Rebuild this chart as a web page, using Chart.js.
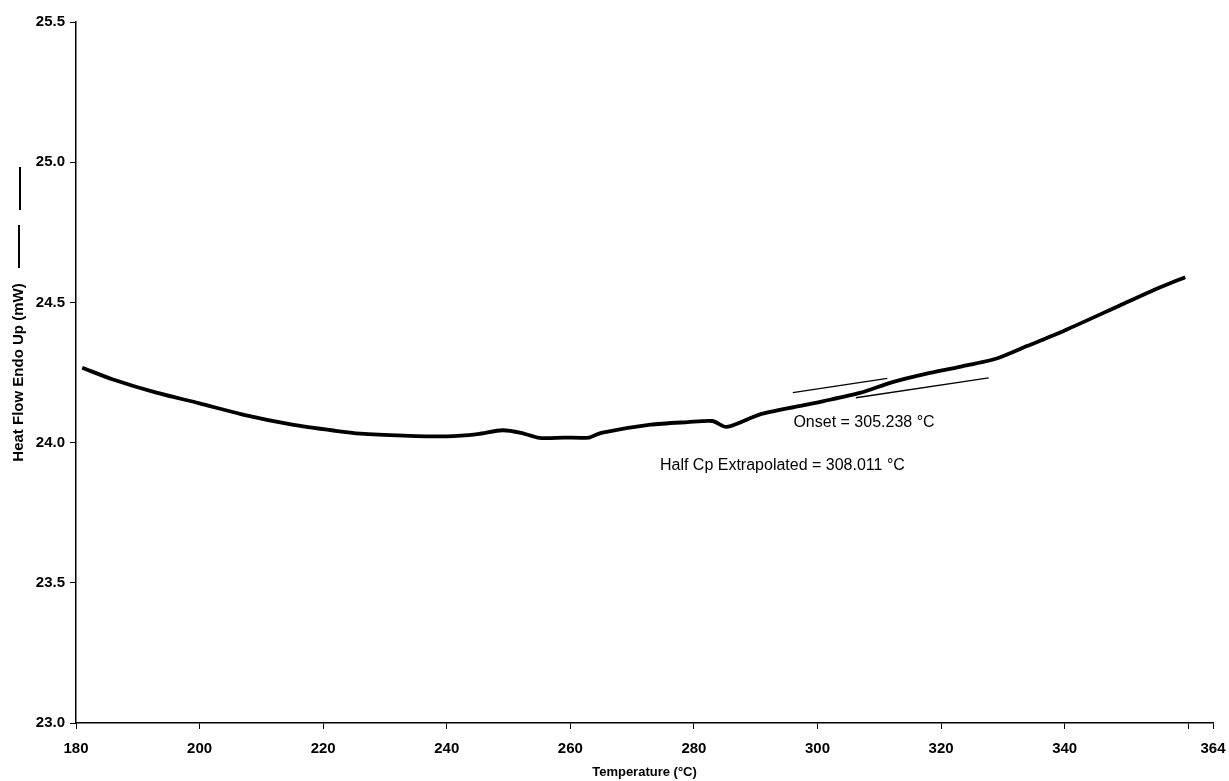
<!DOCTYPE html>
<html>
<head>
<meta charset="utf-8">
<script src="https://cdn.jsdelivr.net/npm/chart.js@4.4.0/dist/chart.umd.min.js"></script>
<style>
    html, body { margin: 0; padding: 0; background: #fff; }
    #wrap { width: 1229px; height: 781px; position: relative; }
</style>
</head>
<body>
<div id="wrap"><canvas id="dscChart"></canvas></div>
<script>
// === DADOS ===
const temperature = [181, 186, 193, 200, 207, 215, 222, 226, 233, 240, 245, 249, 252, 255, 259, 263, 265, 273, 279, 283, 285.3, 290.6, 297, 301, 307, 312, 317.5, 323, 329, 334, 340, 349, 354, 359.5];
const heatFlow = [24.267, 24.225, 24.178, 24.14, 24.10, 24.064, 24.042, 24.032, 24.025, 24.022, 24.03, 24.044, 24.035, 24.017, 24.018, 24.018, 24.035, 24.064, 24.073, 24.077, 24.056, 24.10, 24.13, 24.148, 24.178, 24.215, 24.245, 24.27, 24.30, 24.345, 24.40, 24.49, 24.54, 24.59];

// tangentes usadas no cálculo do onset / half Cp
const onsetTangentX = [296.0, 311.3];
const onsetTangentY = [24.178, 24.229];
const halfCpTangentX = [306.2, 327.7];
const halfCpTangentY = [24.160, 24.231];

const xTicks = [180, 200, 220, 240, 260, 280, 300, 320, 340, 360, 364];
const yTicks = [23.0, 23.5, 24.0, 24.5, 25.0, 25.5];

const onsetLabel = 'Onset = 305.238 °C';
const halfCpLabel = 'Half Cp Extrapolated = 308.011 °C';

const toPoints = (xs, ys) => xs.map((x, i) => ({ x: x, y: ys[i] }));

// === PLUGIN: textos dos resultados e traço da legenda do eixo Y ===
const dscNotes = {
    id: 'dscNotes',
    afterDatasetsDraw(chart) {
        const ctx = chart.ctx, sx = chart.scales.x, sy = chart.scales.y;
        ctx.save();
        ctx.fillStyle = '#000';
        ctx.font = '16px "Liberation Sans", Arial, sans-serif';
        ctx.textBaseline = 'middle';
        ctx.textAlign = 'left';
        ctx.fillText(onsetLabel, sx.getPixelForValue(296.1), sy.getPixelForValue(24.07));
        ctx.fillText(halfCpLabel, sx.getPixelForValue(274.5), sy.getPixelForValue(23.918));

        // traço ao lado do título do eixo Y
        ctx.strokeStyle = '#000';
        ctx.lineWidth = 2;
        ctx.beginPath();
        ctx.moveTo(20, 167); ctx.lineTo(20, 210);
        ctx.moveTo(19, 225); ctx.lineTo(19, 268);
        ctx.stroke();
        ctx.restore();
    }
};

const tickFont = { family: '"Liberation Sans", Arial, sans-serif', size: 15, weight: 'bold' };

new Chart(document.getElementById('dscChart').getContext('2d'), {
    type: 'line',
    data: {
        datasets: [
            { label: 'Heat Flow', data: toPoints(temperature, heatFlow), borderColor: '#000', borderWidth: 3.8, pointRadius: 0, tension: 0.25, fill: false },
            { label: 'Onset tangent', data: toPoints(onsetTangentX, onsetTangentY), borderColor: '#000', borderWidth: 1.3, pointRadius: 0, fill: false },
            { label: 'Half Cp tangent', data: toPoints(halfCpTangentX, halfCpTangentY), borderColor: '#000', borderWidth: 1.3, pointRadius: 0, fill: false }
        ]
    },
    options: {
        responsive: true,
        maintainAspectRatio: false,
        animation: false,
        layout: { padding: { top: 22, right: 0, left: 0, bottom: 0 } },
        plugins: { legend: { display: false }, tooltip: { enabled: false } },
        scales: {
            x: {
                type: 'linear', min: 180, max: 364,
                afterBuildTicks: axis => { axis.ticks = xTicks.map(v => ({ value: v })); },
                afterFit: s => { s.height = 58; s.paddingRight = 16; },
                grid: { drawOnChartArea: false, drawTicks: true, tickLength: 6, color: '#000', lineWidth: 1 },
                border: { display: true, color: '#000', width: 1.5 },
                ticks: { color: '#000', font: tickFont, padding: 11, maxRotation: 0, autoSkip: false, callback: v => v === 360 ? '' : v },
                title: { display: true, text: 'Temperature (°C)', color: '#000', font: { family: '"Liberation Sans", Arial, sans-serif', size: 13, weight: 'bold' }, padding: { top: 0, bottom: 1 } }
            },
            y: {
                min: 23.0, max: 25.5,
                afterBuildTicks: axis => { axis.ticks = yTicks.map(v => ({ value: v })); },
                afterFit: s => { s.width = 76; },
                grid: { drawOnChartArea: false, drawTicks: true, tickLength: 6, color: '#000', lineWidth: 1 },
                border: { display: true, color: '#000', width: 1.5 },
                ticks: { color: '#000', font: tickFont, padding: 5, callback: v => v.toFixed(1) },
                title: { display: true, text: 'Heat Flow Endo Up (mW)', color: '#000', font: { family: '"Liberation Sans", Arial, sans-serif', size: 15, weight: 'bold' }, padding: { top: 10, bottom: 0 } }
            }
        }
    },
    plugins: [dscNotes]
});
</script>
</body>
</html>
